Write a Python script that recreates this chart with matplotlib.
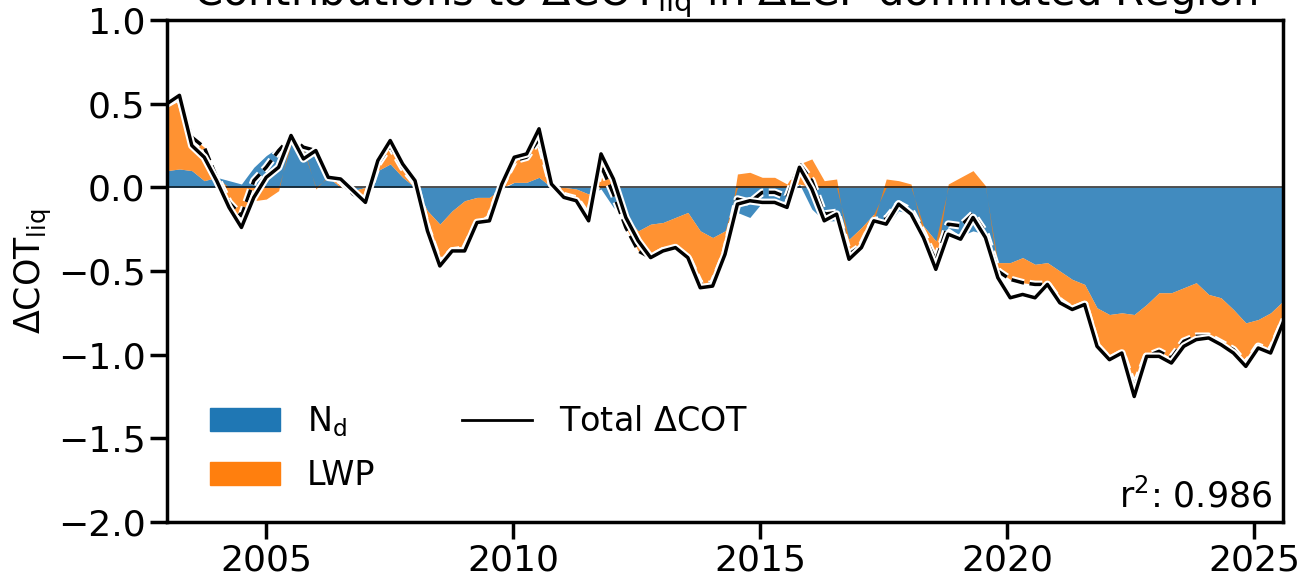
import numpy as np
import matplotlib
matplotlib.use("Agg")
import matplotlib.pyplot as plt
import matplotlib.patheffects as pe
from matplotlib.patches import Patch
from matplotlib.lines import Line2D

# quarterly time axis (decimal years)
years = np.linspace(2003.0, 2025.58, 91)

# contribution of droplet number (Nd) to dCOT
nd = [0.10, 0.11, 0.10, 0.04, 0.06, 0.04, 0.02, 0.12, 0.19, 0.24,
      0.26, 0.22, 0.23, 0.06, 0.00, -0.02, 0.00, 0.10, 0.14, 0.06,
      0.00, -0.14, -0.22, -0.14, -0.08, -0.06, -0.06, -0.01, 0.03, 0.03,
      0.06, 0.00, 0.00, -0.01, -0.04, -0.01, -0.12, -0.18, -0.26, -0.22,
      -0.21, -0.18, -0.15, -0.26, -0.30, -0.26, -0.15, -0.18, -0.09, -0.09,
      -0.08, 0.02, -0.13, -0.20, -0.20, -0.31, -0.24, -0.16, -0.24, -0.14,
      -0.16, -0.23, -0.32, -0.24, -0.29, -0.26, -0.28, -0.45, -0.45, -0.42,
      -0.46, -0.45, -0.50, -0.55, -0.58, -0.72, -0.76, -0.75, -0.76, -0.70,
      -0.63, -0.63, -0.60, -0.57, -0.64, -0.66, -0.73, -0.81, -0.79, -0.75,
      -0.68]

# contribution of liquid water path (LWP) to dCOT
lwp = [0.40, 0.43, 0.20, 0.20, 0.00, -0.13, -0.19, -0.08, -0.07, -0.02,
       0.04, 0.02, -0.01, 0.01, 0.04, -0.02, -0.08, 0.04, 0.11, 0.06,
       0.03, -0.11, -0.24, -0.24, -0.29, -0.16, -0.13, 0.03, 0.13, 0.15,
       0.23, 0.02, -0.05, -0.06, -0.14, 0.14, 0.08, -0.06, -0.12, -0.20,
       -0.17, -0.19, -0.27, -0.32, -0.28, -0.14, 0.08, 0.09, 0.06, 0.06,
       0.02, 0.12, 0.17, 0.04, 0.05, -0.09, -0.11, -0.04, 0.05, 0.04,
       0.02, -0.05, -0.12, 0.02, 0.06, 0.10, 0.01, -0.05, -0.10, -0.15,
       -0.12, -0.13, -0.18, -0.18, -0.12, -0.23, -0.27, -0.24, -0.44, -0.31,
       -0.35, -0.39, -0.32, -0.32, -0.25, -0.27, -0.24, -0.25, -0.16, -0.23,
       -0.13]

# total dCOT
total = [0.50, 0.55, 0.25, 0.18, 0.04, -0.12, -0.24, -0.06, 0.06, 0.12,
         0.31, 0.17, 0.22, 0.06, 0.05, -0.02, -0.09, 0.16, 0.28, 0.14,
         0.04, -0.26, -0.47, -0.38, -0.38, -0.21, -0.20, 0.02, 0.18, 0.20,
         0.35, 0.02, -0.06, -0.08, -0.20, 0.20, 0.05, -0.18, -0.32, -0.42,
         -0.38, -0.36, -0.42, -0.60, -0.59, -0.40, -0.10, -0.08, -0.09, -0.09,
         -0.12, 0.12, -0.01, -0.20, -0.16, -0.43, -0.36, -0.20, -0.22, -0.10,
         -0.16, -0.30, -0.49, -0.28, -0.31, -0.18, -0.30, -0.54, -0.66, -0.64,
         -0.66, -0.58, -0.69, -0.73, -0.70, -0.95, -1.03, -0.99, -1.25, -1.01,
         -1.01, -1.05, -0.95, -0.91, -0.90, -0.94, -0.99, -1.07, -0.96, -0.99,
         -0.81]

r2 = 0.986

nd = np.array(nd)
lwp = np.array(lwp)
total = np.array(total)
summed = nd + lwp

blue = "#1f77b4"
orange = "#ff7f0e"

fig = plt.figure(figsize=(13.06, 5.77), dpi=100)
ax = fig.add_axes([0.1279, 0.0953, 0.8545, 0.870])

# positive and negative parts are stacked separately
base = np.where(lwp >= 0, np.maximum(nd, 0), np.minimum(nd, 0))
ax.fill_between(years, 0, nd, color=blue, alpha=0.85, lw=0)
ax.fill_between(years, base, base + lwp, color=orange, alpha=0.85, lw=0)

ax.axhline(0, color="k", lw=1.2, alpha=0.8)

halo = [pe.Stroke(linewidth=5.5, foreground="white"), pe.Normal()]
ax.plot(years, summed, color="k", ls="--", lw=2.5, path_effects=halo)
ax.plot(years, total, color="k", lw=2.5, path_effects=halo)

ax.set_xlim(years[0], years[-1])
ax.set_ylim(-2.0, 1.0)
ax.set_xticks([2005, 2010, 2015, 2020, 2025])
ax.set_yticks([1.0, 0.5, 0.0, -0.5, -1.0, -1.5, -2.0])
ax.tick_params(labelsize=26, length=12, width=2.5)
for s in ax.spines.values():
    s.set_linewidth(2.5)

ax.set_ylabel(r"$\Delta$COT$_{\mathrm{liq}}$", fontsize=25, labelpad=3)
ax.set_title(r"Contributions to $\Delta$COT$_{\mathrm{liq}}$ in $\Delta$LCF-dominated Region",
             fontsize=30, pad=5)

handles = [Patch(color=blue, label=r"N$_\mathrm{d}$"),
           Patch(color=orange, label="LWP"),
           Line2D([], [], color="k", lw=2, label=r"Total $\Delta$COT")]
ax.legend(handles=handles, ncol=2, loc="lower left", frameon=False,
          fontsize=24, bbox_to_anchor=(0.012, 0.0), columnspacing=2.6,
          handlelength=2.1, labelspacing=0.6)

ax.text(0.99, 0.015, f"r$^2$: {r2}", transform=ax.transAxes,
        ha="right", va="bottom", fontsize=25)

fig.savefig("out.png", dpi=100)
